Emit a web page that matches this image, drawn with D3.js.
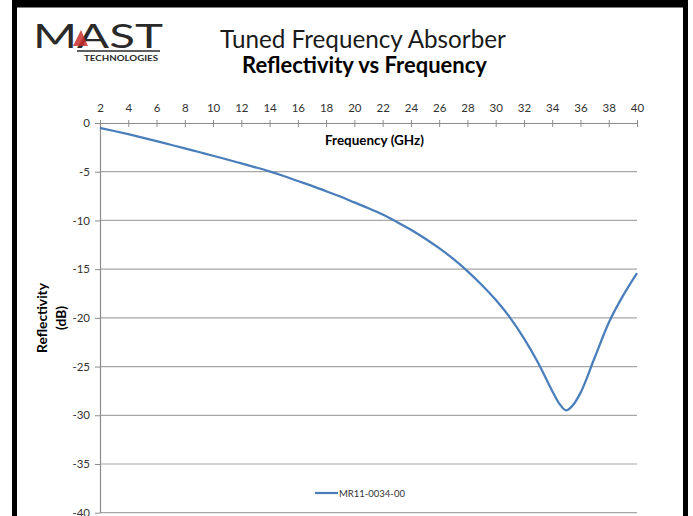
<!DOCTYPE html>
<html><head><meta charset="utf-8">
<script src="https://cdn.jsdelivr.net/npm/d3@7"></script>
<style>
html,body{margin:0;padding:0;background:#fff;}
svg{display:block;}
text{font-family:Lato,"Open Sans",sans-serif;}
</style></head>
<body>
<svg id="chart" width="693" height="516"></svg>
<script>
// ---- data ----
const frequencies = [2,3,4,5,6,7,8,9,10,11,12,13,14,15,16,17,18,19,20,21,22,23,24,25,26,27,28,29,30,31,32,33,34,34.5,35,35.5,36,37,38,39,40];
const reflectivity = [-0.5,-0.82,-1.15,-1.5,-1.86,-2.23,-2.6,-2.98,-3.36,-3.75,-4.15,-4.55,-4.97,-5.44,-5.95,-6.45,-7.0,-7.55,-8.15,-8.75,-9.4,-10.15,-10.95,-11.85,-12.85,-13.95,-15.2,-16.6,-18.15,-19.95,-22.1,-24.6,-27.5,-28.8,-29.5,-28.9,-27.7,-24.1,-20.5,-17.75,-15.4];
const xTicks = [2,4,6,8,10,12,14,16,18,20,22,24,26,28,30,32,34,36,38,40];
const yTicks = [0,-5,-10,-15,-20,-25,-30,-35,-40];
const seriesName = "MR11-0034-00";
const titleMain = "Tuned Frequency Absorber";
const titleSub = "Reflectivity vs Frequency";
const xTitle = "Frequency (GHz)";
const yTitleLines = ["Reflectivity","(dB)"];

const svg = d3.select("#chart");
function fit(sel, w){
  const n = sel.node();
  const fs = parseFloat(sel.attr("font-size"));
  const l = n.getComputedTextLength();
  if(l>0) sel.attr("font-size", fs*w/l);
  return sel;
}

// frame
svg.append("rect").attr("x",12).attr("y",0).attr("width",676).attr("height",7.5).attr("fill","#000");
svg.append("rect").attr("x",12).attr("y",0).attr("width",5).attr("height",516).attr("fill","#000");
svg.append("rect").attr("x",683).attr("y",0).attr("width",5).attr("height",516).attr("fill","#000");

// logo
const logo = svg.append("g");
logo.append("text").attr("x",33).attr("y",48).attr("font-size",32)
  .attr("font-family","'Liberation Sans',Arial,sans-serif").attr("fill","#2a2a2a")
  .attr("textLength",130).attr("lengthAdjust","spacingAndGlyphs").text("MAST");
logo.append("path").attr("d","M73,46 L81,30 L88,46 Z").attr("fill","#c8302c").attr("opacity",0.85);
logo.append("line").attr("x1",77).attr("x2",160).attr("y1",51).attr("y2",51).attr("stroke","#2a2a2a").attr("stroke-width",1.5);
logo.append("text").attr("x",84).attr("y",61).attr("font-size",7.5).attr("font-weight","bold")
  .attr("font-family","'Liberation Sans',Arial,sans-serif").attr("fill","#2a2a2a")
  .attr("textLength",74).attr("lengthAdjust","spacingAndGlyphs").text("TECHNOLOGIES");

// titles
fit(svg.append("text").attr("x",363).attr("y",48).attr("text-anchor","middle").attr("font-size",22).attr("fill","#1a1a1a").text(titleMain),286);
fit(svg.append("text").attr("x",364.5).attr("y",73).attr("text-anchor","middle").attr("font-size",19).attr("font-weight","bold").attr("fill","#000").text(titleSub),245);

// scales
const x = d3.scaleLinear().domain([2,40]).range([100,637]);
const y = d3.scaleLinear().domain([0,-40]).range([123,512.7]);

// gridlines
svg.append("g").selectAll("line").data(yTicks.filter(d=>d!==0)).join("line")
  .attr("x1",100).attr("x2",637).attr("y1",d=>y(d)).attr("y2",d=>y(d))
  .attr("stroke","#a6a6a6").attr("stroke-width",1.2);

// y axis
const yAxis = svg.append("g").attr("transform","translate(100,0)")
  .call(d3.axisLeft(y).tickValues(yTicks).tickSize(5).tickSizeOuter(0).tickFormat(d=>String(d)));
yAxis.select(".domain").attr("stroke","#8c8c8c").attr("stroke-width",1.2);
yAxis.selectAll(".tick line").attr("stroke","#8c8c8c");
yAxis.selectAll(".tick text").attr("font-size",11.5).attr("font-family","Lato,sans-serif").attr("fill","#333").attr("x",-10);

// x axis (top at 0 dB)
const xAxis = svg.append("g").attr("transform",`translate(0,${y(0)})`)
  .call(d3.axisTop(x).tickValues(xTicks).tickSize(3).tickSizeOuter(0));
xAxis.select(".domain").attr("stroke","#8c8c8c").attr("stroke-width",1.2);
xAxis.selectAll(".tick line").attr("stroke","#8c8c8c").attr("y1",4).attr("y2",-3);
xAxis.selectAll(".tick text").attr("font-size",11.5).attr("font-family","Lato,sans-serif").attr("fill","#333").attr("y",-11);

// axis titles
fit(svg.append("text").attr("x",374.5).attr("y",145).attr("text-anchor","middle").attr("font-size",12).attr("font-weight","bold").attr("fill","#000").text(xTitle),99);
const yt1 = svg.append("text").attr("transform","translate(47,318) rotate(-90)").attr("text-anchor","middle").attr("font-size",12).attr("font-weight","bold").attr("fill","#000").text(yTitleLines[0]);
fit(yt1,70);
svg.append("text").attr("transform","translate(66,318) rotate(-90)").attr("text-anchor","middle").attr("font-size",yt1.attr("font-size")).attr("font-weight","bold").attr("fill","#000").text(yTitleLines[1]);

// series line
const data = frequencies.map((f,i)=>({f, v: reflectivity[i]}));
svg.append("path").datum(data)
  .attr("d", d3.line().x(d=>x(d.f)).y(d=>y(d.v)).curve(d3.curveMonotoneX))
  .attr("fill","none").attr("stroke","#4a7ebb").attr("stroke-width",2.25).attr("stroke-linejoin","round");

// legend
svg.append("line").attr("x1",315).attr("x2",338).attr("y1",493).attr("y2",493).attr("stroke","#4a7ebb").attr("stroke-width",2.25);
fit(svg.append("text").attr("x",339).attr("y",497).attr("font-size",10.5).attr("fill","#333").text(seriesName),66);
</script>
</body></html>
